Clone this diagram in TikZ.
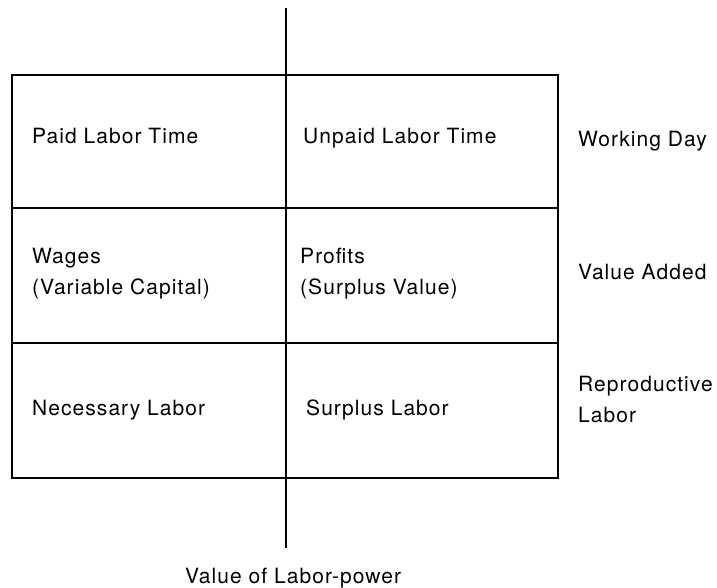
\documentclass[tikz,border=0pt]{standalone}
\usepackage{fontspec}
\setmainfont[LetterSpace=5]{TeX Gyre Heros}
\begin{document}
\begin{tikzpicture}[x=1pt,y=-1pt,
  lbl/.style={anchor=base west,inner sep=0pt,align=left,font=\fontsize{21}{31}\selectfont},
  frame/.style={line width=2.6pt},
  divider/.style={line width=2.2pt},
  axis/.style={line width=1.8pt}]
\useasboundingbox (0,0) rectangle (717,588);
% outer frame and row dividers
\draw[frame] (12,75) rectangle (558,478);
\coordinate (d1l) at (12,208);  \coordinate (d1r) at (558,208);
\coordinate (d2l) at (12,343);  \coordinate (d2r) at (558,343);
\draw[divider] (d1l) -- (d1r);
\draw[divider] (d2l) -- (d2r);
% vertical split
\coordinate (vtop) at (286,8);
\coordinate (vbot) at (286,548);
\draw[axis] (vtop) -- (vbot);
% cells (base anchor sits on the last line)
\node[lbl] (paid) at (32,144) {Paid Labor Time};
\node[lbl] (unpaid) at (303,144) {Unpaid Labor Time};
\node[lbl] (wages) at (32,294) {Wages\\(Variable Capital)};
\node[lbl] (profits) at (300,294) {Profits\\(Surplus Value)};
\node[lbl] (necessary) at (32,415) {Necessary Labor};
\node[lbl] (surplus) at (306,415) {Surplus Labor};
% row labels
\node[lbl] (day) at (578,147) {Working Day};
\node[lbl] (added) at (578,279) {Value Added};
\node[lbl] (repro) at (578,422) {Reproductive\\Labor};
% bottom label
\node[lbl] (lp) at (185,583) {Value of Labor-power};
\end{tikzpicture}
\end{document}
